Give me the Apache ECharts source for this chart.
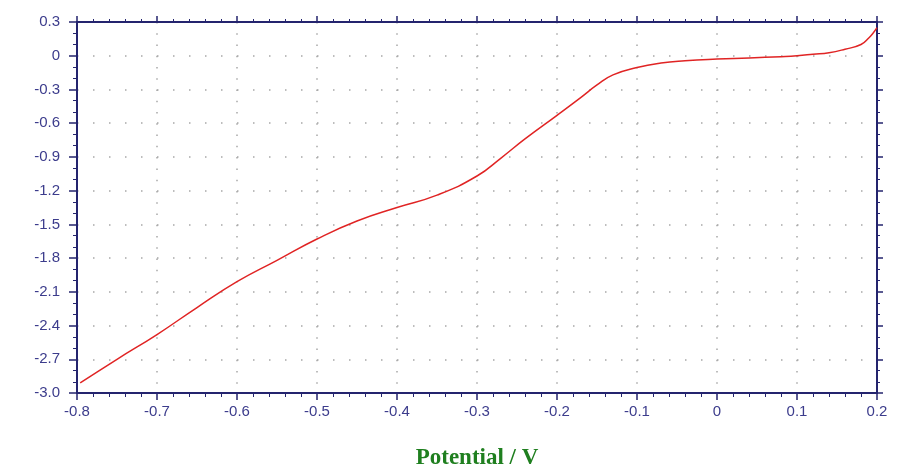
<!DOCTYPE html>
<html>
<head>
<meta charset="utf-8">
<script src="https://cdn.jsdelivr.net/npm/echarts@6/dist/echarts.min.js"></script>
<style>
  html, body { margin: 0; padding: 0; background: #fff; }
  #chart { width: 900px; height: 469px; }
</style>
</head>
<body>
<div id="chart"></div>
<script>
// values
const potential = [-0.796, -0.75, -0.7, -0.65, -0.6, -0.55, -0.5, -0.45, -0.4, -0.35, -0.3, -0.27, -0.24,
  -0.2, -0.17, -0.15, -0.13, -0.1, -0.07, -0.04, 0, 0.04, 0.08, 0.1, 0.12, 0.14, 0.16, 0.18, 0.19, 0.195, 0.2];
const current = [-2.91, -2.70, -2.48, -2.24, -2.01, -1.82, -1.63, -1.47, -1.35, -1.24, -1.07, -0.91, -0.74,
  -0.53, -0.37, -0.26, -0.17, -0.105, -0.065, -0.045, -0.03, -0.02, -0.008, 0.0, 0.013, 0.027, 0.058, 0.10, 0.16, 0.2, 0.25];
const xRange = { min: -0.8, max: 0.2, step: 0.1 };
const yRange = { min: -3.0, max: 0.3, step: 0.3 };
const xTitle = "Potential / V";

const axisColor = "#24246e";
const labelColor = "#3c3c8c";
const fmt = (v) => (Math.abs(v) < 1e-9 ? "0" : v.toFixed(1));

const line = echarts.init(document.getElementById("chart"));

const tickCommon = {
  axisLine: { show: true, onZero: false, lineStyle: { color: axisColor, width: 2 } },
  axisTick: { show: true, inside: false, length: 7, lineStyle: { color: axisColor, width: 1.5 } },
  minorTick: { show: true, length: 4, lineStyle: { color: axisColor, width: 1 } }
};

const option = {
  animation: false,
  grid: { left: 77, right: 23, top: 22, bottom: 76, containLabel: false, outerBoundsMode: "none" },
  xAxis: [
    {
      type: "value",
      position: "bottom",
      min: xRange.min, max: xRange.max, interval: xRange.step,
      ...tickCommon,
      minorTick: { ...tickCommon.minorTick, splitNumber: 5 },
      axisLabel: { color: labelColor, fontSize: 15, fontFamily: "Liberation Sans", margin: 11, formatter: fmt },
      splitLine: { show: true, lineStyle: { color: "#a8a8a8", width: 1.5, type: [1.5, 9.76] } },
      name: xTitle,
      nameLocation: "middle",
      nameGap: 54,
      nameTextStyle: { color: "#1f7f1f", fontSize: 23, fontWeight: "bold", fontFamily: "Liberation Serif" }
    },
    {
      type: "value",
      position: "top",
      min: xRange.min, max: xRange.max, interval: xRange.step,
      ...tickCommon,
      axisTick: { ...tickCommon.axisTick, length: 6 },
      minorTick: { ...tickCommon.minorTick, splitNumber: 5, length: 3 },
      axisLabel: { show: false },
      splitLine: { show: false }
    }
  ],
  yAxis: [
    {
      type: "value",
      position: "left",
      min: yRange.min, max: yRange.max, interval: yRange.step,
      ...tickCommon,
      axisTick: { ...tickCommon.axisTick, length: 8 },
      minorTick: { ...tickCommon.minorTick, splitNumber: 3 },
      axisLabel: { color: labelColor, fontSize: 15, fontFamily: "Liberation Sans", margin: 17, formatter: fmt },
      splitLine: { show: true, lineStyle: { color: "#a8a8a8", width: 1.5, type: [1.5, 14.5] } }
    },
    {
      type: "value",
      position: "right",
      min: yRange.min, max: yRange.max, interval: yRange.step,
      ...tickCommon,
      axisTick: { ...tickCommon.axisTick, length: 6 },
      minorTick: { ...tickCommon.minorTick, splitNumber: 3, length: 3 },
      axisLabel: { show: false },
      splitLine: { show: false }
    }
  ],
  series: [
    {
      type: "line",
      xAxisIndex: 0,
      yAxisIndex: 0,
      smooth: 0.5,
      showSymbol: false,
      lineStyle: { color: "#e02424", width: 1.5 },
      data: potential.map((p, i) => [p, current[i]])
    }
  ]
};
line.setOption(option);
window.addEventListener("resize", () => {
  line.resize();
});
</script>
</body>
</html>
